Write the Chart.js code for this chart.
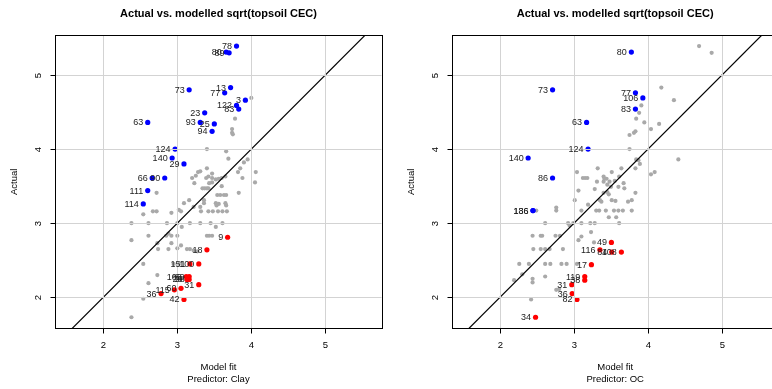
<!DOCTYPE html>
<html>
<head>
<meta charset="utf-8">
<script src="https://cdn.jsdelivr.net/npm/chart.js@4/dist/chart.umd.min.js"></script>
<style>
  html, body { margin: 0; padding: 0; background: #fff; overflow: hidden; width: 772px; height: 389px; }
  canvas { position: absolute; top: 0; }
  #c1 { left: 0; }
  #c2 { left: 396px; }
</style>
</head>
<body>
<canvas id="c1" width="390" height="389"></canvas>
<canvas id="c2" width="390" height="389"></canvas>
<script>
// ---------- data ----------
const titleText = 'Actual vs. modelled sqrt(topsoil CEC)';
const xAxisTitle = 'Model fit';
const yAxisTitle = 'Actual';
const tickValues = [2, 3, 4, 5];
const predictors = ['Clay', 'OC'];

// Predictor: Clay — points within tolerance (grey)
const clayOther = [
  [4.00,4.69],[3.78,4.41],[3.74,4.27],[3.74,4.22],[3.75,4.20],[3.40,4.00],[3.66,3.97],[3.69,3.87],[3.90,3.82],[3.95,3.86],
  [3.85,3.74],[4.06,3.69],[3.40,3.74],[3.28,3.69],[3.31,3.70],[3.20,3.61],[3.25,3.64],[3.23,3.54],[3.39,3.61],[3.42,3.63],
  [3.47,3.67],[3.47,3.61],[3.52,3.59],[3.60,3.61],[3.65,3.63],[3.47,3.55],[3.43,3.54],[3.56,3.60],[3.60,3.50],[3.82,3.69],
  [3.88,3.61],[4.05,3.55],[3.83,3.41],[3.34,3.47],[3.37,3.47],[3.40,3.47],[3.42,3.47],[3.54,3.38],[3.58,3.38],[3.63,3.38],
  [3.66,3.38],[3.36,3.31],[3.16,3.31],[3.09,3.27],[3.31,3.22],[3.36,3.27],[3.52,3.27],[3.53,3.24],[3.56,3.26],[3.65,3.27],
  [3.66,3.24],[3.22,3.22],[3.32,3.16],[3.42,3.16],[3.48,3.16],[3.55,3.16],[3.61,3.16],[3.67,3.16],[3.02,3.18],[3.05,3.16],
  [2.92,3.14],[2.67,3.16],[2.72,3.16],[2.54,3.12],[2.72,3.41],
  [2.38,3.00],[2.61,3.00],[2.86,3.00],[3.00,3.00],[3.17,3.00],[3.31,3.00],[3.45,3.00],[3.52,2.95],[3.61,3.00],
  [2.38,2.77],[2.61,2.83],[2.73,2.73],[2.85,2.83],[2.88,2.86],[2.92,2.83],[2.92,2.73],[3.05,2.70],[3.00,2.83],[3.06,2.95],
  [2.74,2.65],[2.88,2.65],[3.00,2.66],[3.13,2.65],[3.17,2.65],[3.22,2.63],[3.27,2.62],[3.40,2.83],[3.43,2.83],[3.47,2.83],
  [2.54,2.45],[2.61,2.19],[2.73,2.30],[2.54,1.98],[2.38,1.73],[2.95,2.45],[3.02,2.45],[2.96,2.28],[3.03,2.25]
];
// Clay — under-predicted (blue)
const clayHigh = [
  [3.80,5.39],[3.66,5.31],[3.70,5.30],[3.16,4.80],[3.72,4.83],[3.64,4.76],[3.92,4.66],[3.80,4.59],[3.83,4.54],[3.37,4.49],
  [2.60,4.36],[3.31,4.36],[3.50,4.34],[3.47,4.24],[2.97,4.00],[2.93,3.88],[3.09,3.80],[2.66,3.61],[2.83,3.61],[2.60,3.44],
  [2.54,3.26]
];
const clayHighLabels = ['78','80','89','73','13','77','3','122','83','23','63','93','25','94','124','140','29','66','90','111','114'];
// Clay — over-predicted (red)
const clayLow = [
  [3.68,2.81],[3.40,2.64],[3.17,2.45],[3.29,2.45],[3.12,2.28],[3.16,2.28],[3.13,2.24],[3.16,2.24],[3.29,2.17],[3.05,2.12],
  [2.96,2.10],[2.78,2.05],[3.09,1.97]
];
const clayLowLabels = ['9','18','151','100','106','69','26','28','31','60','115','36','42'];

// Predictor: OC — points within tolerance (grey)
const ocOther = [
  [4.69,5.39],[4.86,5.30],[4.18,4.83],[4.35,4.66],[3.91,4.59],[3.88,4.49],[3.84,4.41],[3.95,4.36],[4.15,4.34],[4.04,4.27],
  [3.75,4.19],[3.81,4.22],[3.83,4.24],[3.75,4.00],[3.84,3.86],[3.87,3.85],[3.89,3.80],[3.83,3.74],[4.41,3.86],[4.04,3.66],
  [4.09,3.69],[3.32,3.74],[3.04,3.69],[3.51,3.69],[3.64,3.74],
  [3.12,3.61],[3.15,3.61],[3.18,3.61],[3.31,3.56],[3.40,3.63],[3.41,3.60],[3.44,3.60],[3.40,3.56],[3.61,3.63],[3.67,3.54],
  [3.68,3.47],[3.60,3.49],[3.45,3.52],[3.48,3.56],[3.50,3.49],[3.55,3.57],[3.06,3.44],[3.28,3.46],[3.40,3.41],[3.45,3.42],
  [3.47,3.39],[3.83,3.41],[3.51,3.31],[3.56,3.30],[3.35,3.31],[3.37,3.29],[3.73,3.29],[3.78,3.31],[3.01,3.31],[2.76,3.21],
  [2.76,3.17],[2.49,3.17],[3.19,3.25],[3.10,3.17],[3.30,3.17],[3.34,3.17],[3.43,3.17],[3.54,3.17],[3.60,3.17],[3.66,3.17],
  [3.78,3.17],[3.47,3.08],[3.57,3.08],
  [2.61,3.00],[2.92,3.00],[2.94,2.97],[2.99,3.00],[3.10,3.00],[3.22,3.00],[3.28,3.00],[3.61,3.00],
  [3.23,2.88],[3.06,2.77],[3.10,2.82],
  [2.44,2.83],[2.55,2.83],[2.57,2.83],[2.75,2.83],[2.81,2.83],
  [2.45,2.65],[2.55,2.65],[2.61,2.65],[2.67,2.65],[2.85,2.65],[3.27,2.74],
  [2.26,2.45],[2.39,2.45],[2.61,2.45],[2.68,2.45],[2.83,2.45],[2.90,2.45],[3.04,2.45],
  [2.30,2.31],[2.44,2.25],[2.44,2.20],[2.61,2.28],[2.19,2.23],[2.76,2.10],[2.80,2.11],[2.42,1.97]
];
// OC — under-predicted (blue)
const ocHigh = [
  [3.775,5.31],[2.71,4.80],[3.83,4.76],[3.93,4.69],[3.83,4.54],[3.17,4.36],[3.19,4.00],[2.38,3.88],[2.71,3.61],[2.445,3.17],
  [2.445,3.17]
];
const ocHighLabels = ['80','73','77','106','83','63','124','140','86','136','186'];
// OC — over-predicted (red)
const ocLow = [
  [3.505,2.74],[3.35,2.64],[3.51,2.61],[3.64,2.61],[3.235,2.44],[3.145,2.28],[3.145,2.23],[2.97,2.17],[2.975,2.05],[3.04,1.97],
  [2.48,1.73]
];
const ocLowLabels = ['49','116','84','108','17','119','38','31','36','82','34'];

// 1:1 reference line ends
const oneToOne = [1, 6];

// ---------- chart ----------
const FONT = '"Liberation Sans", Arial, Helvetica, sans-serif';
const toPts = arr => arr.map(p => ({ x: p[0], y: p[1] }));

const rStyle = {
  id: 'rStyle',
  afterDatasetsDraw(chart, args, opts) {
    const ctx = chart.ctx;
    const a = chart.chartArea;
    const xs = chart.scales.x, ys = chart.scales.y;
    ctx.save();
    // grid (drawn over points, as in the reference)
    ctx.beginPath();
    ctx.rect(a.left, a.top, a.right - a.left, a.bottom - a.top);
    ctx.clip();
    ctx.strokeStyle = '#d3d3d3';
    ctx.lineWidth = 1;
    tickValues.forEach(v => {
      const px = Math.round(xs.getPixelForValue(v)) + 0.5;
      const py = Math.round(ys.getPixelForValue(v)) + 0.5;
      ctx.beginPath(); ctx.moveTo(px, a.top); ctx.lineTo(px, a.bottom); ctx.stroke();
      ctx.beginPath(); ctx.moveTo(a.left, py); ctx.lineTo(a.right, py); ctx.stroke();
    });
    ctx.restore();

    ctx.save();
    // point labels
    ctx.fillStyle = '#222';
    ctx.font = '9px ' + FONT;
    ctx.textAlign = 'right';
    ctx.textBaseline = 'middle';
    opts.labelSets.forEach(set => {
      set.points.forEach((p, i) => {
        const px = xs.getPixelForValue(p[0]);
        const py = ys.getPixelForValue(p[1]);
        ctx.fillText(set.labels[i], px - 4.5, py + 0.5);
      });
    });

    // box
    ctx.strokeStyle = '#000';
    ctx.lineWidth = 1;
    const L = Math.round(a.left) + 0.5, R = Math.round(a.right) + 0.5;
    const T = Math.round(a.top) + 0.5, B = Math.round(a.bottom) + 0.5;
    ctx.strokeRect(L, T, R - L, B - T);

    // ticks and tick labels
    ctx.fillStyle = '#000';
    ctx.font = '9.5px ' + FONT;
    tickValues.forEach(v => {
      const px = Math.round(xs.getPixelForValue(v)) + 0.5;
      const py = Math.round(ys.getPixelForValue(v)) + 0.5;
      ctx.beginPath(); ctx.moveTo(px, B); ctx.lineTo(px, B + 5); ctx.stroke();
      ctx.beginPath(); ctx.moveTo(L, py); ctx.lineTo(L - 5, py); ctx.stroke();
      ctx.textAlign = 'center';
      ctx.textBaseline = 'middle';
      ctx.fillText(String(v), px, a.bottom + 17.5);
      ctx.save();
      ctx.translate(a.left - 17, py);
      ctx.rotate(-Math.PI / 2);
      ctx.fillText(String(v), 0, 0);
      ctx.restore();
    });

    // axis titles
    const cx = (a.left + a.right) / 2;
    ctx.textAlign = 'center';
    ctx.textBaseline = 'middle';
    ctx.fillText(xAxisTitle, cx, a.bottom + 39.5);
    ctx.fillText('Predictor: ' + opts.predictor, cx, a.bottom + 51.5);
    ctx.save();
    ctx.translate(a.left - 40.5, (a.top + a.bottom) / 2);
    ctx.rotate(-Math.PI / 2);
    ctx.fillText(yAxisTitle, 0, 0);
    ctx.restore();

    // main title
    ctx.font = 'bold 11px ' + FONT;
    ctx.fillText(titleText, cx, 14);
    ctx.restore();
  }
};

function makeChart(id, other, high, highLabels, low, lowLabels, predictor, padLeft, padRight) {
  return new Chart(document.getElementById(id), {
    type: 'scatter',
    data: {
      datasets: [
        { label: 'within', data: toPts(other), order: 4, pointRadius: 2.1, pointHoverRadius: 2.1,
          backgroundColor: '#a9a9a9', borderWidth: 0, pointBorderWidth: 0 },
        { label: '1:1', data: oneToOne.map(v => ({ x: v, y: v })), order: 3, showLine: true,
          borderColor: '#000', borderWidth: 1.2, pointRadius: 0, clip: 0 },
        { label: 'under', data: toPts(high), order: 2, pointRadius: 2.6, pointHoverRadius: 2.6,
          backgroundColor: '#0000ff', borderWidth: 0, pointBorderWidth: 0 },
        { label: 'over', data: toPts(low), order: 1, pointRadius: 2.6, pointHoverRadius: 2.6,
          backgroundColor: '#ff0000', borderWidth: 0, pointBorderWidth: 0 }
      ]
    },
    options: {
      responsive: false,
      animation: false,
      devicePixelRatio: 1,
      events: [],
      layout: { padding: { left: padLeft, right: padRight, top: 35.3, bottom: 60.7 } },
      scales: {
        x: { type: 'linear', min: 1.351, max: 5.762, display: false },
        y: { type: 'linear', min: 1.581, max: 5.536, display: false }
      },
      plugins: {
        legend: { display: false },
        tooltip: { enabled: false },
        title: { display: false },
        rStyle: {
          predictor: predictor,
          labelSets: [
            { points: high, labels: highLabels },
            { points: low, labels: lowLabels }
          ]
        }
      }
    },
    plugins: [rStyle]
  });
}

makeChart('c1', clayOther, clayHigh, clayHighLabels, clayLow, clayLowLabels, predictors[0], 55.3, 8.3);
makeChart('c2', ocOther, ocHigh, ocHighLabels, ocLow, ocLowLabels, predictors[1], 56, 7.6);
</script>
</body>
</html>
